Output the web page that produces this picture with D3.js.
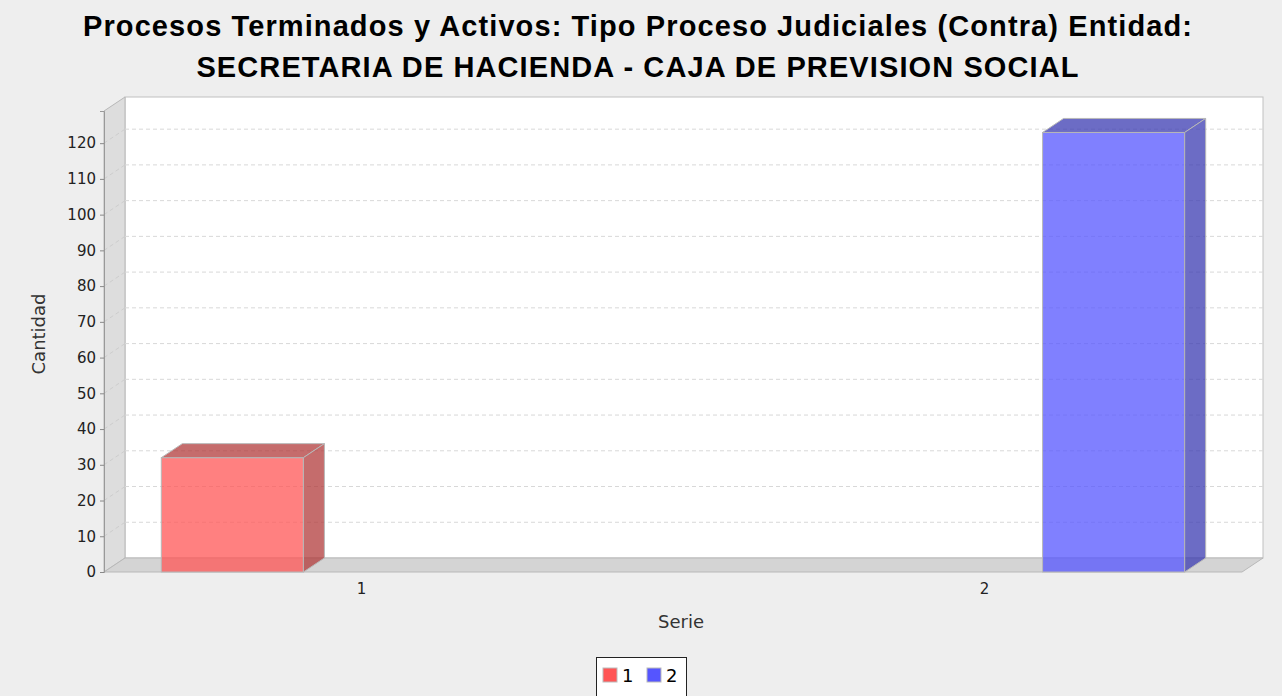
<!DOCTYPE html>
<html>
<head>
<meta charset="utf-8">
<script src="https://cdnjs.cloudflare.com/ajax/libs/d3/7.8.5/d3.min.js"></script>
<style>
  body { margin: 0; background: #eeeeee; }
  svg { display: block; }
  text { font-family: "DejaVu Sans", sans-serif; fill: #333; }
</style>
</head>
<body>
<svg width="1282" height="696"></svg>
<script>
// data
var titleLines = ["Procesos Terminados y Activos: Tipo Proceso Judiciales (Contra) Entidad:",
                  "SECRETARIA DE HACIENDA - CAJA DE PREVISION SOCIAL"];
var categories = ["1", "2"];
var seriesNames = ["1", "2"];
// one value per category; each category only has the bar of its own series
var values = [
  {category: "1", series: "1", value: 32},
  {category: "2", series: "2", value: 123}
];
var seriesColors = ["#ff5555", "#5555ff"];
var sideColors = ["#b23b3b", "#3b3bb2"];
var yTicks = d3.range(0, 121, 10);

var svg = d3.select("svg"),
  width = +svg.attr("width"),
  height = +svg.attr("height");

// 3d offsets and plot box (front face)
var dx = 21, dy = 14;
var plotL = 104, plotR = 1242, plotB = 572, plotT = 111;

var x = d3.scaleBand().domain(categories).range([plotL, plotR])
  .paddingInner(0.357).paddingOuter(0.092);
var xs = d3.scaleBand().domain(seriesNames).range([0, x.bandwidth()])
  .paddingInner(0.45).paddingOuter(0);
var y = d3.scaleLinear().domain([0, 129]).range([plotB, plotT]);
var color = d3.scaleOrdinal().domain(seriesNames).range(seriesColors);
var sideColor = d3.scaleOrdinal().domain(seriesNames).range(sideColors);

svg.append("rect").attr("width", width).attr("height", height).attr("fill", "#eeeeee");

// title
svg.append("g").selectAll("text")
  .data(titleLines)
  .enter().append("text")
  .attr("x", 638)
  .attr("y", function(d, i) { return 36 + i * 41; })
  .attr("text-anchor", "middle")
  .style("font-family", "'Liberation Sans', Arial, sans-serif")
  .style("font-weight", "bold")
  .style("font-size", "29px")
  .style("letter-spacing", "1.1px")
  .style("fill", "#000")
  .text(function(d) { return d; });

// back wall
svg.append("rect")
  .attr("x", plotL + dx).attr("y", plotT - dy)
  .attr("width", plotR - plotL).attr("height", plotB - plotT)
  .attr("fill", "#fff").attr("stroke", "#c0c0c0");

// left wall
svg.append("path")
  .attr("d", "M" + plotL + "," + plotB + "L" + plotL + "," + plotT +
    "L" + (plotL + dx) + "," + (plotT - dy) + "L" + (plotL + dx) + "," + (plotB - dy) + "Z")
  .attr("fill", "#dddddd").attr("stroke", "#b8b8b8");

// floor
svg.append("path")
  .attr("d", "M" + plotL + "," + plotB + "L" + plotR + "," + plotB +
    "L" + (plotR + dx) + "," + (plotB - dy) + "L" + (plotL + dx) + "," + (plotB - dy) + "Z")
  .attr("fill", "#d4d4d4").attr("stroke", "#b8b8b8");

// gridlines
var gridTicks = yTicks.filter(function(d) { return d > 0; });
var grid = svg.append("g").attr("class", "grid");
grid.selectAll("line.h")
  .data(gridTicks)
  .enter().append("line")
  .attr("x1", plotL + dx).attr("x2", plotR + dx)
  .attr("y1", function(d) { return y(d) - dy; })
  .attr("y2", function(d) { return y(d) - dy; })
  .attr("stroke", "#d8d8d8").attr("stroke-dasharray", "4,3");
grid.selectAll("line.w")
  .data(gridTicks)
  .enter().append("line")
  .attr("x1", plotL).attr("x2", plotL + dx)
  .attr("y1", function(d) { return y(d); })
  .attr("y2", function(d) { return y(d) - dy; })
  .attr("stroke", "#cdcdcd").attr("stroke-dasharray", "4,3");

// y axis
var yAxis = svg.append("g")
  .attr("transform", "translate(" + plotL + ",0)")
  .call(d3.axisLeft(y).tickValues(yTicks).tickSize(4).tickPadding(4));
yAxis.select(".domain").attr("stroke", "#999");
yAxis.selectAll(".tick line").attr("stroke", "#888");
yAxis.selectAll("text").style("font-size", "15px").style("fill", "#222")
  .style("font-family", "'DejaVu Sans', sans-serif");

// x axis labels
var xAxis = svg.append("g")
  .attr("transform", "translate(0," + plotB + ")")
  .call(d3.axisBottom(x).tickSize(0).tickPadding(11));
xAxis.select(".domain").remove();
xAxis.selectAll("text").style("font-size", "15px").style("fill", "#222")
  .style("font-family", "'DejaVu Sans', sans-serif");

// axis titles
svg.append("text")
  .attr("transform", "translate(45,334) rotate(-90)")
  .attr("text-anchor", "middle")
  .style("font-size", "18px")
  .text("Cantidad");
svg.append("text")
  .attr("x", 681).attr("y", 628)
  .attr("text-anchor", "middle")
  .style("font-size", "18px")
  .text("Serie");

// bars
var bars = svg.append("g").selectAll("g.bar")
  .data(values)
  .enter().append("g")
  .attr("class", "bar");

function bx0(d) { return x(d.category) + xs(d.series); }
function bx1(d) { return bx0(d) + xs.bandwidth(); }

bars.append("rect")
  .attr("x", bx0)
  .attr("y", function(d) { return y(d.value); })
  .attr("width", xs.bandwidth())
  .attr("height", function(d) { return y(0) - y(d.value); })
  .attr("fill", function(d) { return color(d.series); })
  .attr("fill-opacity", 0.75)
  .attr("stroke", "#b8b8b8");

// top face
bars.append("path")
  .attr("d", function(d) {
    var x0 = bx0(d), x1 = bx1(d), yt = y(d.value);
    return "M" + x0 + "," + yt + "L" + (x0 + dx) + "," + (yt - dy) +
      "L" + (x1 + dx) + "," + (yt - dy) + "L" + x1 + "," + yt + "Z";
  })
  .attr("fill", function(d) { return sideColor(d.series); })
  .attr("fill-opacity", 0.75)
  .attr("stroke", "#b8b8b8");

// side face
bars.append("path")
  .attr("d", function(d) {
    var x1 = bx1(d), yt = y(d.value), yb = y(0);
    return "M" + x1 + "," + yt + "L" + (x1 + dx) + "," + (yt - dy) +
      "L" + (x1 + dx) + "," + (yb - dy) + "L" + x1 + "," + yb + "Z";
  })
  .attr("fill", function(d) { return sideColor(d.series); })
  .attr("fill-opacity", 0.75)
  .attr("stroke", "#b8b8b8");

// legend
var legend = svg.append("g");
legend.append("rect")
  .attr("x", 596.5).attr("y", 657.5).attr("width", 90).attr("height", 45)
  .attr("fill", "#fff").attr("stroke", "#222");
var li = legend.selectAll("g.item")
  .data(seriesNames)
  .enter().append("g")
  .attr("transform", function(d, i) { return "translate(" + (603 + i * 44) + ",668)"; });
li.append("rect")
  .attr("width", 14).attr("height", 14)
  .attr("fill", function(d) { return color(d); })
  .attr("stroke", "#bbb");
li.append("text")
  .attr("x", 19).attr("y", 14)
  .style("font-size", "18px").style("fill", "#000")
  .text(function(d) { return d; });
</script>
</body>
</html>
